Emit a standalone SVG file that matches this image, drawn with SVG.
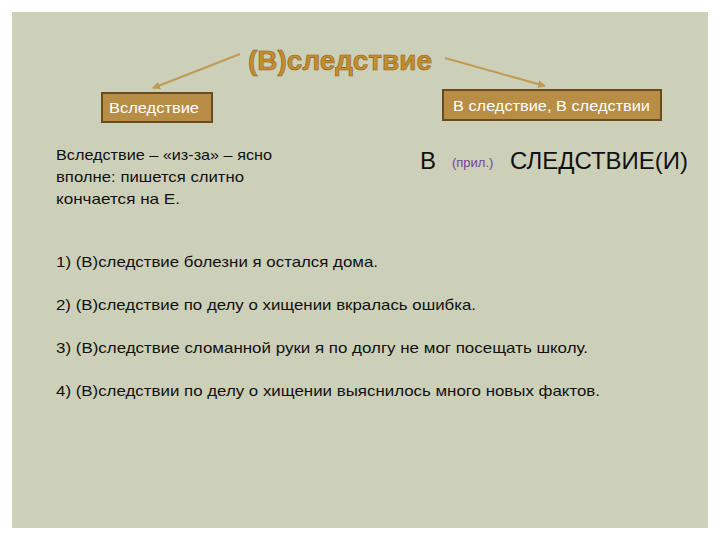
<svg xmlns="http://www.w3.org/2000/svg" width="720" height="540" viewBox="0 0 720 540">
<defs>
<marker id="ah" markerWidth="8" markerHeight="8" refX="7" refY="4" orient="auto" markerUnits="userSpaceOnUse"><path d="M0,0 L8,4 L0,8 Z" fill="#c09a55"/></marker>
<style>
.box{fill:#b88d45;stroke:#6b4a1e;stroke-width:2}
.bt{font-family:"Liberation Sans",Arial,sans-serif;font-size:15px;fill:#fff}
.t{font-family:"Liberation Sans",Arial,sans-serif;font-size:15px;fill:#111}
.c{stroke:#c09a55;stroke-width:2;fill:none}
</style>
</defs>
<rect width="720" height="540" fill="#fff"/>
<rect x="12" y="12" width="696" height="516" fill="#cdd0b8"/>
<text x="340" y="70" text-anchor="middle" font-family="Liberation Sans,Arial,sans-serif" font-size="28" font-weight="bold" fill="#c48e2e" stroke="#8a5f1c" stroke-width="0.6">(В)следствие</text>
<g id="connectors">
<line class="c" x1="240" y1="54" x2="153" y2="88" marker-end="url(#ah)"/>
<line class="c" x1="445" y1="58" x2="545" y2="86" marker-end="url(#ah)"/>
</g>
<g id="left"><rect class="box" x="102" y="93" width="110" height="29"/><text class="bt" x="109" y="113" textLength="90" lengthAdjust="spacingAndGlyphs">Вследствие</text></g>
<g id="right"><rect class="box" x="443" y="90" width="218" height="30"/><text class="bt" x="453" y="111" textLength="197" lengthAdjust="spacingAndGlyphs">В следствие, В следствии</text></g>
<text class="t" x="56" y="160" textLength="216" lengthAdjust="spacingAndGlyphs">Вследствие – «из-за» – ясно</text>
<text class="t" x="56" y="182" textLength="188" lengthAdjust="spacingAndGlyphs">вполне: пишется слитно</text>
<text class="t" x="56" y="204" textLength="124" lengthAdjust="spacingAndGlyphs">кончается на Е.</text>
<text x="420" y="169" font-family="Liberation Sans,Arial,sans-serif" font-size="24" fill="#111">В<tspan x="452" font-size="13" fill="#7a3fa0" dy="-2">(прил.)</tspan><tspan x="510" dy="2" textLength="178" lengthAdjust="spacingAndGlyphs">СЛЕДСТВИЕ(И)</tspan></text>
<text class="t" x="56" y="267" textLength="322" lengthAdjust="spacingAndGlyphs">1) (В)следствие болезни  я остался дома.</text>
<text class="t" x="56" y="310" textLength="420" lengthAdjust="spacingAndGlyphs">2) (В)следствие по делу о хищении вкралась ошибка.</text>
<text class="t" x="56" y="353" textLength="532" lengthAdjust="spacingAndGlyphs">3) (В)следствие сломанной руки я по долгу не мог посещать школу.</text>
<text class="t" x="56" y="396" textLength="544" lengthAdjust="spacingAndGlyphs">4) (В)следствии по делу о хищении выяснилось много новых фактов.</text>
</svg>
